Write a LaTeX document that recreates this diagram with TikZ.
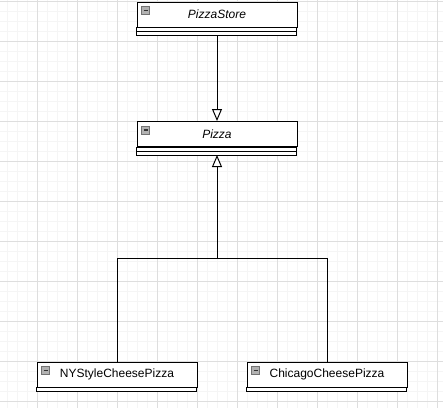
\documentclass[tikz,border=0pt]{standalone}
\usepackage{fontspec}
\setmainfont{Liberation Sans}
\usetikzlibrary{arrows.meta,calc}
\tikzset{
  minorline/.style={line width=0.75pt, color=black!4},
  majorline/.style={line width=0.75pt, color=black!13},
  classbox/.style={draw, line width=0.75pt, fill=white, inner sep=0pt,
    minimum width=120pt, minimum height=18.75pt, font=\fontsize{9pt}{11pt}\selectfont},
  compart/.style={draw, line width=0.75pt, fill=white},
  inherit/.style={line width=0.75pt, -{Triangle[open, length=9pt, width=7.5pt, fill=white]}},
  iconbox/.style={draw=black!55, fill=black!30, line width=0.5pt},
}
\begin{document}
\begin{tikzpicture}[x=0.75pt, y=-0.75pt]
  %%%%% BACKGROUND GRID %%%%%
  \fill[white] (0,0) rectangle (443,408);
  \useasboundingbox (0,0) rectangle (443,408);
  \foreach \gx in {7,17,...,437} \draw[minorline] (\gx,0) -- (\gx,408);
  \foreach \gy in {1,11,...,401} \draw[minorline] (0,\gy) -- (443,\gy);
  \foreach \gx in {37,77,...,437} \draw[majorline] (\gx,0) -- (\gx,408);
  \foreach \gy in {1,41,...,401} \draw[majorline] (0,\gy) -- (443,\gy);

  %%%%% CLASSES %%%%%
  \node[classbox, font=\fontsize{9pt}{11pt}\selectfont\itshape] (store) at (217,14.5) {PizzaStore};
  \draw[compart] (store.south west) rectangle ++(160,4);
  \draw[compart] ($(store.south west)+(0,4)$) rectangle ++(160,4);
  \coordinate (storebot) at ($(store.south)+(0,8)$);

  \node[classbox, font=\fontsize{9pt}{11pt}\selectfont\itshape] (pizza) at (217,134) {Pizza};
  \draw[compart] (pizza.south west) rectangle ++(160,4);
  \draw[compart] ($(pizza.south west)+(0,4)$) rectangle ++(160,4);
  \coordinate (pizzabot) at ($(pizza.south)+(0,8)$);

  \node[classbox] (ny) at (117,374.5) {NYStyleCheesePizza};
  \draw[compart] (ny.south west) rectangle ++(160,4);

  \node[classbox] (chicago) at (327,374.5) {ChicagoCheesePizza};
  \draw[compart] (chicago.south west) rectangle ++(160,4);

  % collapse icons
  \foreach \n in {store,pizza,ny,chicago} {
    \draw[iconbox] ($(\n.north west)+(5,5)$) rectangle ++(8,8);
    \draw[line width=0.8pt, black!80] ($(\n.north west)+(7,9)$) -- ++(4,0);
  }

  %%%%% CONNECTORS %%%%%
  \draw[inherit] (storebot) -- (pizza.north);
  \coordinate (branch) at (217,258);
  \draw[inherit] (ny.north) |- (branch) -- (pizzabot);
  \draw[line width=0.75pt] (chicago.north) |- (branch);
\end{tikzpicture}
\end{document}
